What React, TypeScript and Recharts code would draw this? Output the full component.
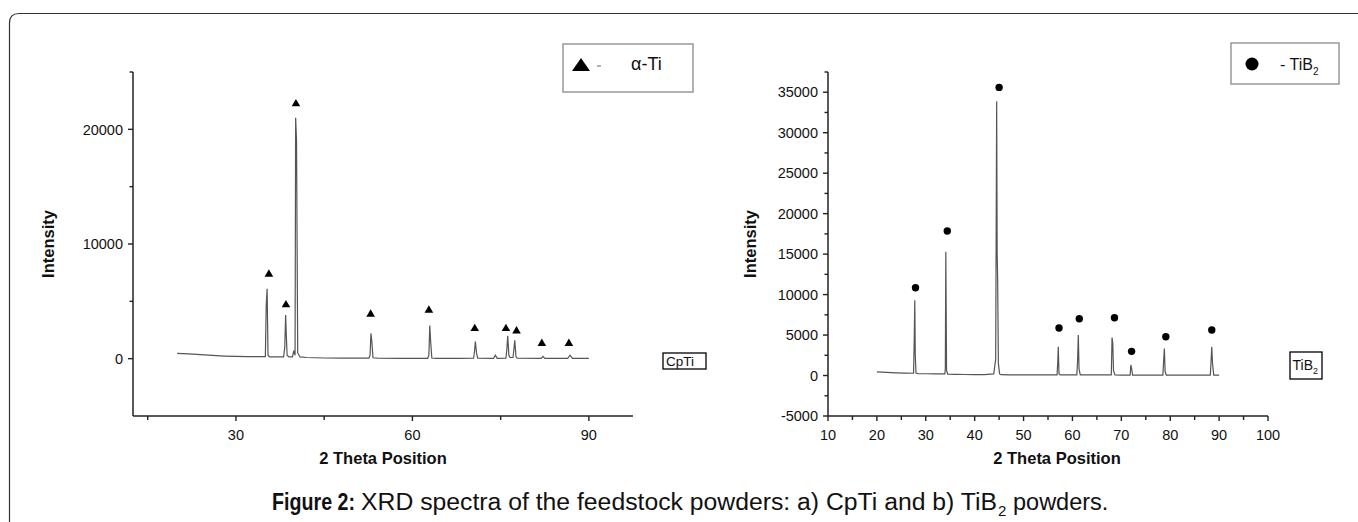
import React from "react";
import { ComposedChart, Line, Scatter, XAxis, YAxis } from "recharts";

const FONT = "'Liberation Sans', Arial, Helvetica, sans-serif";
const AXIS = "#222";
const TRACE = "#555";

// a) CpTi powder pattern (2θ, counts)
const cpTiTheta = [
  20, 22, 24, 26, 28, 30, 32, 34, 35.0, 35.15, 35.3, 35.45, 35.7, 38.1, 38.3,
  38.45, 38.55, 38.7, 39.0, 39.6, 39.85, 40.05, 40.15, 40.3, 40.5, 40.9, 42, 45,
  48, 52.6, 52.8, 52.95, 53.1, 53.3, 54, 58, 62.6, 62.8, 62.95, 63.1, 63.3, 64,
  68, 70.4, 70.55, 70.7, 70.9, 71.1, 73.8, 74.1, 74.4, 75.9, 76.05, 76.2, 76.4,
  76.6, 77.1, 77.25, 77.4, 77.6, 77.8, 81.9, 82.2, 82.5, 86.4, 86.8, 87.2, 90,
];
const cpTiCounts = [
  470, 420, 350, 280, 230, 200, 180, 170, 170, 4700, 6100, 300, 160, 160, 1000,
  3800, 2200, 300, 150, 150, 700, 300, 21000, 19000, 500, 150, 100, 60, 50, 40,
  300, 2200, 1500, 80, 40, 30, 30, 300, 2900, 1500, 60, 30, 30, 40, 600, 1500,
  500, 40, 30, 300, 30, 40, 800, 2000, 300, 100, 100, 800, 1600, 200, 40, 30,
  200, 30, 30, 300, 30, 20,
];
// α-Ti peak markers
const cpTiMarkTheta = [35.6, 38.5, 40.2, 52.9, 62.8, 70.6, 75.9, 77.7, 82.0, 86.6];
const cpTiMarkY = [7450, 4770, 22300, 3960, 4310, 2700, 2700, 2500, 1400, 1400];

// b) TiB2 powder pattern (2θ, counts)
const tibTheta = [
  20, 22, 24, 26, 27.5, 27.65, 27.75, 27.85, 28.0, 28.4, 30, 32, 33.9, 34.0,
  34.1, 34.25, 34.5, 36, 38, 40, 42, 43.9, 44.3, 44.5, 44.6, 44.7, 44.85, 45.1,
  45.4, 47, 50, 53, 56.85, 57.0, 57.1, 57.25, 57.5, 59, 60.9, 61.05, 61.2, 61.35,
  61.6, 63, 66, 67.95, 68.1, 68.25, 68.4, 68.7, 70, 71.8, 71.95, 72.1, 72.3, 74,
  76, 78.5, 78.65, 78.8, 78.95, 79.2, 82, 85, 88.2, 88.35, 88.5, 88.65, 88.9, 90,
];
const tibCounts = [
  450, 380, 330, 290, 280, 4800, 9300, 2500, 300, 240, 220, 200, 200, 900,
  15300, 600, 180, 150, 130, 120, 120, 200, 2000, 33900, 15200, 12000, 1500, 200,
  100, 80, 80, 70, 70, 1700, 3550, 200, 70, 70, 80, 1800, 5000, 800, 80, 70, 70,
  80, 4700, 4000, 600, 70, 60, 60, 1300, 900, 60, 60, 60, 60, 1800, 3350, 500,
  60, 50, 50, 60, 1700, 3550, 1500, 60, 50,
];
// TiB2 peak markers
const tibMarkTheta = [27.9, 34.4, 45.0, 57.25, 61.4, 68.6, 72.1, 79.1, 88.5];
const tibMarkY = [10850, 17850, 35600, 5870, 7020, 7140, 2990, 4800, 5620];

// axis ticks
const cpTiXTicks = [15, 30, 45, 60, 75, 90];
const cpTiXMajor = [30, 60, 90];
const cpTiYTicks = [0, 5000, 10000, 15000, 20000, 25000];
const cpTiYMajor = [0, 10000, 20000];
const tibXTicks = [10, 15, 20, 25, 30, 35, 40, 45, 50, 55, 60, 65, 70, 75, 80, 85, 90, 95, 100];
const tibXMajor = [10, 20, 30, 40, 50, 60, 70, 80, 90, 100];
const tibYTicks = [-5000, -2500, 0, 2500, 5000, 7500, 10000, 12500, 15000, 17500, 20000, 22500, 25000, 27500, 30000, 32500, 35000, 37500];
const tibYMajor = [-5000, 0, 5000, 10000, 15000, 20000, 25000, 30000, 35000];

const toPoints = (xs: number[], ys: number[]) => xs.map((x, i) => ({ x, y: ys[i] }));

const xTick = (major: number[]) => (props: any) => {
  const { x, y, payload } = props;
  const isMajor = major.includes(payload.value);
  return (
    <g>
      <line x1={x} y1={y} x2={x} y2={y + (isMajor ? 5 : 4)} stroke={AXIS} strokeWidth={1.4} />
      {isMajor && (
        <text x={x} y={y + 23.5} textAnchor="middle" fontSize={14.5} fill="#111" fontFamily={FONT}>
          {payload.value}
        </text>
      )}
    </g>
  );
};

const yTick = (major: number[]) => (props: any) => {
  const { x, y, payload } = props;
  const isMajor = major.includes(payload.value);
  return (
    <g>
      <line x1={x - (isMajor ? 5 : 3.5)} y1={y} x2={x} y2={y} stroke={AXIS} strokeWidth={1.4} />
      {isMajor && (
        <text x={x - 10} y={y + 5.2} textAnchor="end" fontSize={14.5} fill="#111" fontFamily={FONT}>
          {payload.value}
        </text>
      )}
    </g>
  );
};

const triangle = (p: any) => (
  <path d={`M${p.cx},${p.cy - 4} L${p.cx + 4.3},${p.cy + 3.4} L${p.cx - 4.3},${p.cy + 3.4} Z`} fill="#000" />
);
const dot = (p: any) => <circle cx={p.cx} cy={p.cy} r={3.7} fill="#000" />;

const yTitle = (bx: number) => () => (
  <text
    x={bx}
    y={244}
    transform={`rotate(-90, ${bx}, 244)`}
    textAnchor="middle"
    fontSize={16.5}
    fontWeight="bold"
    fill="#111"
    fontFamily={FONT}
  >
    Intensity
  </text>
);

const xTitle = (cx: number) => () => (
  <text x={cx} y={464} textAnchor="middle" fontSize={16.5} fontWeight="bold" fill="#111" fontFamily={FONT}>
    2 Theta Position
  </text>
);

function CpTiChart() {
  return (
    <ComposedChart width={700} height={522} margin={{ top: 72, right: 67, bottom: 76, left: 0 }}>
      <XAxis
        type="number"
        dataKey="x"
        domain={[12.5, 97.5]}
        ticks={cpTiXTicks}
        interval={0}
        allowDataOverflow
        height={30}
        tickSize={0}
        tickMargin={0}
        tickLine={false}
        axisLine={{ stroke: AXIS, strokeWidth: 1.5 }}
        tick={xTick(cpTiXMajor)}
        label={{ content: xTitle(383) }}
      />
      <YAxis
        type="number"
        domain={[-5000, 25000]}
        ticks={cpTiYTicks}
        interval={0}
        allowDataOverflow
        width={133}
        tickSize={0}
        tickMargin={0}
        tickLine={false}
        axisLine={{ stroke: AXIS, strokeWidth: 1.5 }}
        tick={yTick(cpTiYMajor)}
        label={{ content: yTitle(54) }}
      />
      <Line
        data={toPoints(cpTiTheta, cpTiCounts)}
        dataKey="y"
        type="linear"
        stroke={TRACE}
        strokeWidth={1.2}
        dot={false}
        isAnimationActive={false}
      />
      <Scatter
        data={toPoints(cpTiMarkTheta, cpTiMarkY)}
        dataKey="y"
        shape={triangle}
        isAnimationActive={false}
      />
    </ComposedChart>
  );
}

function TiB2Chart() {
  return (
    <ComposedChart width={658} height={522} margin={{ top: 72, right: 90, bottom: 76, left: 0 }}>
      <XAxis
        type="number"
        dataKey="x"
        domain={[10, 100]}
        ticks={tibXTicks}
        interval={0}
        allowDataOverflow
        height={30}
        tickSize={0}
        tickMargin={0}
        tickLine={false}
        axisLine={{ stroke: AXIS, strokeWidth: 1.5 }}
        tick={xTick(tibXMajor)}
        label={{ content: xTitle(357) }}
      />
      <YAxis
        type="number"
        domain={[-5000, 37500]}
        ticks={tibYTicks}
        interval={0}
        allowDataOverflow
        width={128}
        tickSize={0}
        tickMargin={0}
        tickLine={false}
        axisLine={{ stroke: AXIS, strokeWidth: 1.5 }}
        tick={yTick(tibYMajor)}
        label={{ content: yTitle(55.5) }}
      />
      <Line
        data={toPoints(tibTheta, tibCounts)}
        dataKey="y"
        type="linear"
        stroke={TRACE}
        strokeWidth={1.2}
        dot={false}
        isAnimationActive={false}
      />
      <Scatter
        data={toPoints(tibMarkTheta, tibMarkY)}
        dataKey="y"
        shape={dot}
        isAnimationActive={false}
      />
    </ComposedChart>
  );
}

export default function App() {
  return (
    <div
      style={{
        position: "relative",
        width: 1358,
        height: 522,
        overflow: "hidden",
        background: "#fff",
        fontFamily: FONT,
      }}
    >
      <style>{"body{margin:0}"}</style>
      <div style={{ position: "absolute", left: 0, top: 0 }}>
        <CpTiChart />
      </div>
      <div style={{ position: "absolute", left: 700, top: 0 }}>
        <TiB2Chart />
      </div>

      {/* frame, legends, sample tags and caption */}
      <svg
        width={1358}
        height={522}
        style={{ position: "absolute", left: 0, top: 0, pointerEvents: "none" }}
        fontFamily={FONT}
      >
        <path d="M9.5,600 L9.5,23 Q9.5,13.5 19,13.5 L1400,13.5" fill="none" stroke="#333" strokeWidth={1.2} />

        <rect x={563} y={44} width={130} height={48} fill="#fff" stroke="#999" strokeWidth={1.5} />
        <path d="M581,58 L590,71 L572,71 Z" fill="#000" />
        <line x1={597} y1={66} x2={601} y2={66} stroke="#999" strokeWidth={1.5} />
        <text x={631} y={70} fontSize={18} fill="#111">α-Ti</text>

        <rect x={1231} y={43} width={108} height={41} fill="#fff" stroke="#999" strokeWidth={1.5} />
        <circle cx={1252} cy={64} r={6.5} fill="#000" />
        <text x={1280} y={70} fontSize={16} fill="#111">
          - TiB<tspan fontSize={10} dy={5}>2</tspan>
        </text>

        <rect x={663} y={353} width={43} height={16} fill="#fff" stroke="#000" strokeWidth={1.3} />
        <text x={666} y={366} fontSize={13.5} fill="#111">CpTi</text>

        <rect x={1290} y={352} width={32} height={27} fill="#fff" stroke="#000" strokeWidth={1.3} />
        <text x={1292.5} y={370} fontSize={14} fill="#111">
          TiB<tspan fontSize={9} dy={4}>2</tspan>
        </text>

        <text x={272} y={510} fontSize={23} fontWeight="bold" fill="#111" textLength={83} lengthAdjust="spacingAndGlyphs">
          Figure 2:
        </text>
        <text x={361} y={510} fontSize={23.5} fill="#111" textLength={636} lengthAdjust="spacingAndGlyphs">
          XRD spectra of the feedstock powders: a) CpTi and b) TiB
        </text>
        <text x={998} y={516} fontSize={15} fill="#111">2</text>
        <text x={1013} y={510} fontSize={23.5} fill="#111">powders.</text>
      </svg>
    </div>
  );
}
